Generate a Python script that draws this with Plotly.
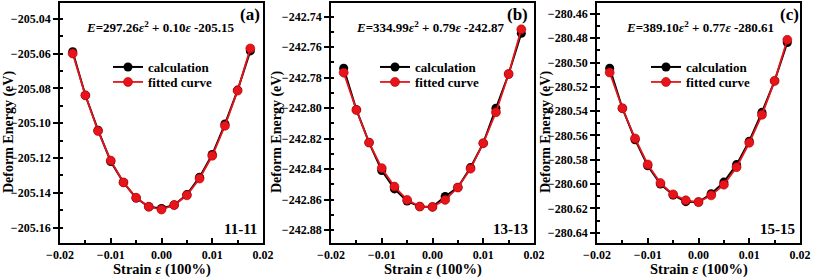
import plotly.graph_objects as go

strain = [-0.0175, -0.015, -0.0125, -0.01, -0.0075, -0.005, -0.0025, 0.0,
          0.0025, 0.005, 0.0075, 0.01, 0.0125, 0.015, 0.0175]

calc_a = [-205.059, -205.084, -205.104, -205.122, -205.134, -205.143, -205.148, -205.149,
          -205.147, -205.141, -205.131, -205.118, -205.1005, -205.081, -205.0585]
fit_a = [-205.060, -205.084, -205.1045, -205.1215, -205.134, -205.1428, -205.148, -205.1496,
         -205.147, -205.1414, -205.1318, -205.1187, -205.1015, -205.0813, -205.0571]

calc_b = [-242.7738, -242.801, -242.8226, -242.841, -242.853, -242.861, -242.8646, -242.8648,
          -242.858, -242.852, -242.839, -242.823, -242.8001, -242.7776, -242.7509]
fit_b = [-242.7767, -242.8012, -242.8226, -242.8394, -242.8515, -242.8602, -242.8646, -242.8648,
         -242.8602, -242.8521, -242.8397, -242.823, -242.8027, -242.7776, -242.7483]

calc_c = [-280.5046, -280.5376, -280.5635, -280.585, -280.600, -280.609, -280.6145, -280.6148,
          -280.608, -280.5984, -280.584, -280.5647, -280.541, -280.5151, -280.4835]
fit_c = [-280.5082, -280.5376, -280.5625, -280.5839, -280.5992, -280.6085, -280.6134, -280.6148,
         -280.6093, -280.6005, -280.5861, -280.566, -280.543, -280.5151, -280.4813]

panels = ["(a)", "(b)", "(c)"]
sizes = ["11-11", "13-13", "15-15"]
equations = ["<i>E</i>=297.26<i>ε</i><sup>2</sup> + 0.10<i>ε</i> -205.15",
             "<i>E</i>=334.99<i>ε</i><sup>2</sup> + 0.79<i>ε</i> -242.87",
             "<i>E</i>=389.10<i>ε</i><sup>2</sup> + 0.77<i>ε</i> -280.61"]
yranges = [[-205.1688, -205.031], [-242.8885, -242.731], [-280.6485, -280.451]]
legend_names = ["calculation", "fitted curve"]

FONT = "Liberation Serif"
W, H = 813, 279
BLACK = "#000000"
RED = "#e8141c"

xdom = [(60, 263), (331, 534), (597, 800)]
ytop, ybot = 3, 243
ydom = [(H - ybot) / H, (H - ytop) / H]

fig = go.Figure()
calcs = [calc_a, calc_b, calc_c]
fits = [fit_a, fit_b, fit_c]

for i in range(3):
    xa = "x" if i == 0 else f"x{i+1}"
    ya = "y" if i == 0 else f"y{i+1}"
    lg_c = "legend" if i == 0 else f"legend{2*i+1}"
    lg_f = f"legend{2*i+2}"
    fig.add_trace(go.Scatter(x=strain, y=calcs[i], mode="lines+markers", name=legend_names[0],
                             line=dict(color=BLACK, width=2),
                             marker=dict(color=BLACK, size=9, symbol="circle"),
                             xaxis=xa, yaxis=ya, legend=lg_c))
    fig.add_trace(go.Scatter(x=strain, y=fits[i], mode="lines+markers", name=legend_names[1],
                             line=dict(color=RED, width=1.8),
                             marker=dict(color=RED, size=9, symbol="circle",
                                         line=dict(color="#b00000", width=0.6)),
                             xaxis=xa, yaxis=ya, legend=lg_f))

layout = dict(width=W, height=H, margin=dict(l=0, r=0, t=0, b=0),
              paper_bgcolor="white", plot_bgcolor="white",
              font=dict(family=FONT, color="black", size=12, weight="bold"),
              showlegend=True)

legend_x = [108, 375, 646]
row_y = [67, 82]
for i in range(3):
    sfx = "" if i == 0 else str(i + 1)
    layout[f"xaxis{sfx}"] = dict(
        domain=[xdom[i][0] / W, xdom[i][1] / W], anchor=f"y{sfx}",
        range=[-0.02, 0.02], dtick=0.01, tickformat=".2f",
        ticks="inside", ticklen=5, tickwidth=1.5, tickcolor="black",
        minor=dict(ticks="inside", ticklen=3, dtick=0.005, tickwidth=1.5, tickcolor="black"),
        showline=True, linecolor="black", linewidth=1.8, mirror=True,
        showgrid=False, zeroline=False, automargin=False,
        tickfont=dict(family=FONT, size=12, weight="bold", color="black"))
    layout[f"yaxis{sfx}"] = dict(
        domain=ydom, anchor=f"x{sfx}",
        range=yranges[i], dtick=0.02, tickformat=".2f",
        ticks="outside", ticklen=5, tickwidth=1.5, tickcolor="black",
        minor=dict(ticks="inside", ticklen=3, dtick=0.01, tickwidth=1.5, tickcolor="black"),
        showline=True, linecolor="black", linewidth=1.8, mirror=True,
        showgrid=False, zeroline=False, automargin=False,
        tickfont=dict(family=FONT, size=12, weight="bold", color="black"))
    for j in range(2):
        k = 2 * i + j + 1
        name = "legend" if k == 1 else f"legend{k}"
        layout[name] = dict(
            x=legend_x[i] / W, y=(H - row_y[j]) / H, xanchor="left", yanchor="middle",
            bgcolor="rgba(0,0,0,0)", borderwidth=0, tracegroupgap=0,
            font=dict(family=FONT, size=13, weight="bold", color="black"),
            itemwidth=30)

fig.update_layout(**layout)

ann = []
eq_cx = [160, 430, 700]
lab_cx = [250, 517, 789]
size_cx = [240, 510, 777]
ytitle_x = [9, 277, 546]
for i in range(3):
    ann.append(dict(text=equations[i], x=eq_cx[i] / W, y=(H - 27) / H, xref="paper", yref="paper",
                    showarrow=False, xanchor="center", yanchor="middle",
                    font=dict(family=FONT, size=13, weight="bold", color="black")))
    ann.append(dict(text=panels[i], x=lab_cx[i] / W, y=(H - 15) / H, xref="paper", yref="paper",
                    showarrow=False, xanchor="center", yanchor="middle",
                    font=dict(family=FONT, size=17, weight="bold", color="black")))
    ann.append(dict(text=sizes[i], x=size_cx[i] / W, y=(H - 229) / H, xref="paper", yref="paper",
                    showarrow=False, xanchor="center", yanchor="middle",
                    font=dict(family=FONT, size=15, weight="bold", color="black")))
    ann.append(dict(text="Deform Energy (eV)", x=ytitle_x[i] / W, y=(H - 132) / H,
                    xref="paper", yref="paper", textangle=-90,
                    showarrow=False, xanchor="center", yanchor="middle",
                    font=dict(family=FONT, size=14, weight="bold", color="black")))
    ann.append(dict(text="Strain <i>ε</i> (100%)", x=(xdom[i][0] + xdom[i][1]) / 2 / W, y=0,
                    xref="paper", yref="paper", borderpad=0,
                    showarrow=False, xanchor="center", yanchor="bottom",
                    font=dict(family=FONT, size=14.5, weight="bold", color="black")))
fig.update_layout(annotations=ann)

fig.write_html("out.html", config={"displayModeBar": False},
               post_script="document.body.style.margin='0';document.body.style.overflow='hidden';")
